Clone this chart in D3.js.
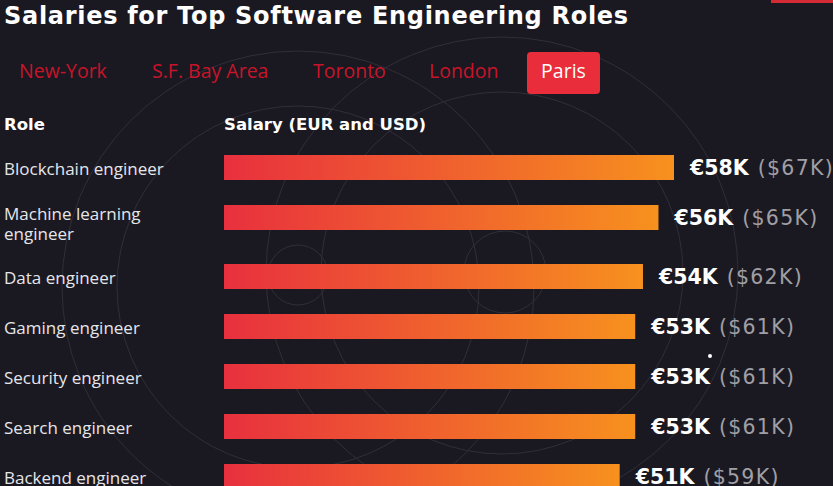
<!DOCTYPE html>
<html>
<head>
<meta charset="utf-8">
<script src="https://cdn.jsdelivr.net/npm/d3@7"></script>
<style>
  html, body { margin: 0; padding: 0; background: #1a1921; overflow: hidden; }
  svg { display: block; }
</style>
</head>
<body>
<svg id="chart" width="833" height="486"></svg>
<script>
// ---- data ----
const title = "Salaries for Top Software Engineering Roles";
const cities = ["New-York", "S.F. Bay Area", "Toronto", "London", "Paris"];
const activeCity = "Paris";
const roles = ["Blockchain engineer", "Machine learning engineer", "Data engineer",
               "Gaming engineer", "Security engineer", "Search engineer", "Backend engineer"];
const eurK = [58, 56, 54, 53, 53, 53, 51];
const usdK = [67, 65, 62, 61, 61, 61, 59];
const headers = ["Role", "Salary (EUR and USD)"];

// ---- layout ----
const W = 833, H = 486;
const svg = d3.select("#chart");
const BOLD = "'DejaVu Sans', sans-serif";
const BODY = "'Open Sans', sans-serif";

// background rings
const bg = svg.append("g").attr("fill", "none").attr("stroke", "#302e37").attr("stroke-width", 1);
const rings = [
  {cx: 298, cy: 287, r: 236}, {cx: 298, cy: 287, r: 181}, {cx: 298, cy: 275, r: 30},
  {cx: 502, cy: 273, r: 236}, {cx: 502, cy: 273, r: 181}, {cx: 505, cy: 272, r: 41}
];
bg.selectAll("circle").data(rings).join("circle")
  .attr("cx", d => d.cx).attr("cy", d => d.cy).attr("r", d => d.r);

// top-right accent
svg.append("rect").attr("x", 771).attr("y", 0).attr("width", 62).attr("height", 3).attr("fill", "#d42a35");

// title
svg.append("text").attr("x", 4).attr("y", 24)
  .attr("font-family", BOLD).attr("font-weight", 700).attr("font-size", 24)
  .attr("letter-spacing", 0.7)
  .attr("fill", "#ffffff").text(title);

// tabs
const tabStarts = [19, 152, 313, 429, 543];
const tabs = svg.append("g");
cities.forEach((c, i) => {
  const active = c === activeCity;
  if (active) {
    tabs.append("rect").attr("x", 527).attr("y", 52).attr("width", 73).attr("height", 42)
      .attr("rx", 4).attr("fill", "#e92d3a");
  }
  tabs.append("text").attr("x", active ? 563.5 : tabStarts[i]).attr("y", 78)
    .attr("text-anchor", active ? "middle" : "start")
    .attr("font-family", BODY).attr("font-weight", 400).attr("font-size", 19.5)
    .attr("fill", active ? "#ffffff" : "#c8142a").text(c);
});

// headers
svg.append("text").attr("x", 4).attr("y", 130)
  .attr("font-family", BOLD).attr("font-weight", 700).attr("font-size", 16.5)
  .attr("fill", "#ffffff").text(headers[0]);
svg.append("text").attr("x", 224).attr("y", 130)
  .attr("font-family", BOLD).attr("font-weight", 700).attr("font-size", 16.5)
  .attr("fill", "#ffffff").text(headers[1]);

// gradient
const defs = svg.append("defs");
const grad = defs.append("linearGradient").attr("id", "barGrad")
  .attr("x1", "0%").attr("x2", "100%").attr("y1", "0%").attr("y2", "0%");
grad.append("stop").attr("offset", "0%").attr("stop-color", "#e8303e");
grad.append("stop").attr("offset", "100%").attr("stop-color", "#f7911e");

// label wrapping
const LABEL_SIZE = 17;
const measure = svg.append("text").attr("font-family", BODY).attr("font-size", LABEL_SIZE).attr("visibility", "hidden");
function wrap(str, maxW) {
  const words = str.split(" ");
  const lines = [];
  let cur = "";
  words.forEach(w => {
    const t = cur ? cur + " " + w : w;
    measure.text(t);
    if (measure.node().getComputedTextLength() > maxW && cur) { lines.push(cur); cur = w; }
    else cur = t;
  });
  lines.push(cur);
  return lines;
}
const roleLines = roles.map(r => wrap(r, 190));
measure.remove();

// row positions (rows grow with wrapped labels)
const rowTops = [];
let yAcc = 155;
roleLines.forEach(l => { rowTops.push(yAcc); yAcc += 50 + (l.length - 1) * 9; });

const x = d3.scaleLinear().domain([0, d3.max(eurK)]).range([224, 674]);
const barH = 25;

const rows = svg.append("g").selectAll("g").data(roles).join("g");

rows.append("rect")
  .attr("x", x(0)).attr("y", (d, i) => rowTops[i])
  .attr("width", (d, i) => x(eurK[i]) - x(0)).attr("height", barH)
  .attr("fill", "url(#barGrad)");

rows.each(function(d, i) {
  const g = d3.select(this);
  const lines = roleLines[i];
  const base = lines.length > 1 ? rowTops[i] + 14.5 : rowTops[i] + 19.5;
  lines.forEach((ln, k) => {
    g.append("text").attr("font-family", BODY).attr("font-size", LABEL_SIZE).attr("fill", "#e6e6ea")
      .attr("x", 4).attr("y", base + k * 20).text(ln);
  });
  const v = g.append("text").attr("x", x(eurK[i]) + 16).attr("y", rowTops[i] + barH / 2 + 7.5)
    .attr("font-family", BOLD).attr("font-size", 20.5);
  v.append("tspan").attr("font-weight", 700).attr("fill", "#ffffff").text("€" + eurK[i] + "K");
  v.append("tspan").attr("dx", 9).attr("font-weight", 400).attr("letter-spacing", 1.3)
    .attr("fill", "#a09fa5").text("($" + usdK[i] + "K)");
});

// small dot
svg.append("circle").attr("cx", 710).attr("cy", 356).attr("r", 2).attr("fill", "#ffffff");
</script>
</body>
</html>
